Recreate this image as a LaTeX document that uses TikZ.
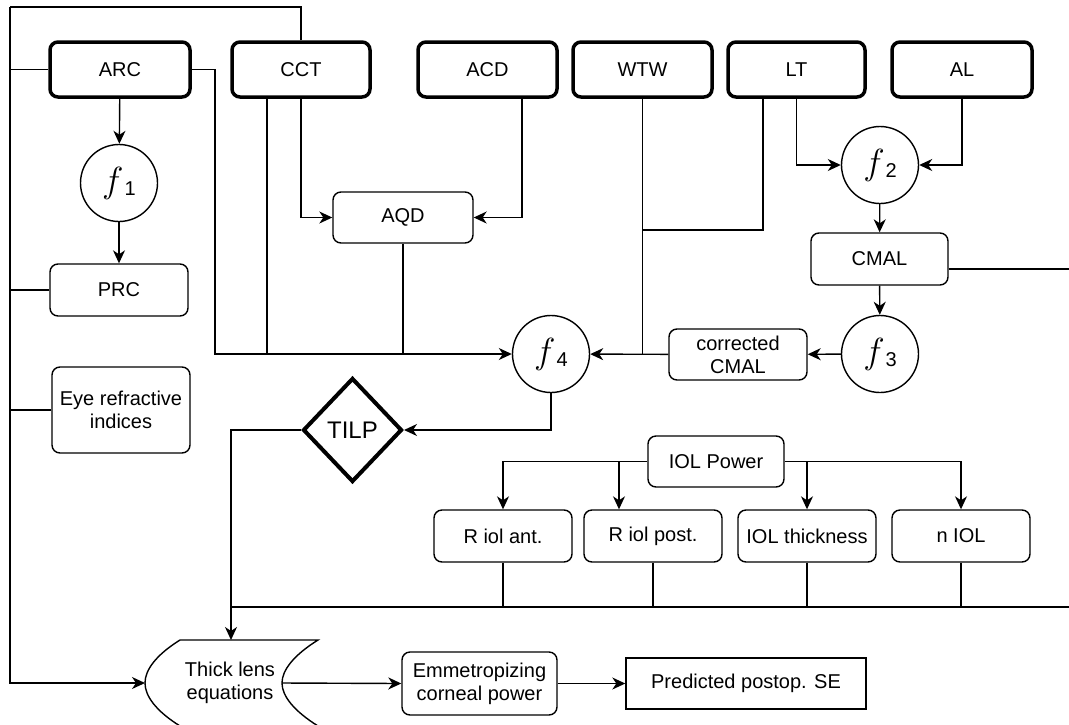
\documentclass[tikz,border=0pt]{standalone}
\usepackage{graphicx}
\usepackage{fontspec}
\setmainfont{Liberation Sans}
\usetikzlibrary{arrows.meta,shapes.geometric,calc}
\newcommand{\fcl}[1]{\raisebox{1pt}{\scalebox{1.75}{$f$}}\kern1pt\raisebox{-2pt}{#1}}
\begin{document}
\begin{tikzpicture}[x=1pt,y=-1pt,
  every node/.style={font=\fontsize{20}{23}\selectfont, inner sep=0pt, align=center},
  ln/.style={line width=1.4pt, draw=black},
  arr/.style={ln, -{Stealth[length=13pt,width=12pt,inset=4pt]}},
  inbox/.style={draw, line width=3.5pt, rounded corners=8pt, minimum height=55pt},
  procbox/.style={draw, line width=1.4pt, rounded corners=8pt, minimum width=138pt, minimum height=52pt},
  fcirc/.style={draw, line width=1.4pt, circle, minimum size=77pt},
  dia/.style={draw, line width=4pt, diamond, minimum width=99pt, minimum height=104pt, font=\fontsize{24}{26}\selectfont}
]
\useasboundingbox (0,0) rectangle (1069,724);

% input boxes
\node[inbox, minimum width=140pt] (ARC) at (120,69.5) {ARC};
\node[inbox, minimum width=138pt] (CCT) at (301,69.5) {CCT};
\node[inbox, minimum width=139pt] (ACD) at (487.5,69.5) {ACD};
\node[inbox, minimum width=139pt] (WTW) at (642.5,69.5) {WTW};
\node[inbox, minimum width=137pt] (LT) at (796.5,69.5) {LT};
\node[inbox, minimum width=140pt] (AL) at (962,69.5) {AL};

% functions
\node[fcirc] (f1) at (119,183) {\fcl{1}};
\node[fcirc] (f2) at (880,165) {\fcl{2}};
\node[fcirc] (f3) at (880,354) {\fcl{3}};
\node[fcirc] (f4) at (551,354) {\fcl{4}};

% process boxes
\node[procbox] (PRC) at (119,290) {PRC};
\node[procbox, minimum height=86pt] (Eye) at (121,410) {Eye refractive\\indices};
\node[procbox, minimum width=140pt, minimum height=51pt] (AQD) at (403,217.5) {AQD};
\node[procbox, minimum width=137pt] (CMAL) at (879.5,259) {CMAL};
\node[procbox, minimum height=51pt] (corr) at (738,354.5) {corrected\\CMAL};
\node[dia] (TILP) at (352.5,430) {TILP};
\node[procbox, minimum width=136pt, minimum height=51pt] (IOL) at (716,461.5) {IOL Power};
\node[procbox] (Rant) at (503,536) {R iol ant.};
\node[procbox] (Rpost) at (653,536) {R iol post.};
\node[procbox] (thk) at (807,536) {IOL thickness};
\node[procbox] (nIOL) at (961,536) {n IOL};
\node[procbox, minimum width=155pt, minimum height=63pt] (Emm) at (479.5,683.5) {Emmetropizing\\corneal power};
\node[draw, line width=1.4pt, minimum width=240pt, minimum height=51pt] (Pred) at (746,683.5) {Predicted postop. SE};

% thick lens shape
\draw[ln] (180,640) -- (318,640) .. controls (294,655) and (282,670) .. (282,683)
  .. controls (282,696) and (294,711) .. (318,726) -- (180,726)
  .. controls (156,711) and (145,696) .. (145,683)
  .. controls (145,670) and (156,655) .. (180,640) -- cycle;
\node (thick) at (230,683) {Thick lens\\equations};
\coordinate (thickW) at (145,683);
\coordinate (thickE) at (282,683);
\coordinate (thickN) at (231,640);

% helper coordinates
\coordinate (tl) at (10,7);
\coordinate (j1) at (215,354);
\coordinate (j2) at (267,354);
\coordinate (j3) at (643,230);
\coordinate (bus) at (231,607);
\coordinate (busR) at (1069,607);
\coordinate (cmR) at (1069,269);

% outer loop
\draw[ln] (CCT.north) |- (tl);
\draw[arr] (tl) |- (thickW);
\draw[ln] (ARC.west) -- (ARC.west -| tl);
\draw[ln] (PRC.west) -- (PRC.west -| tl);
\draw[ln] (Eye.west) -- (Eye.west -| tl);

% ARC connections
\draw[arr] (ARC) -- (f1);
\draw[arr] (f1) -- (PRC);
\draw[arr] (ARC.east) -| (j1) -- (f4.west);

% CCT connections
\draw[ln] (CCT.south -| j2) -- (j2);
\draw[arr] (CCT.south) |- (AQD.west);
\draw[arr] ([xshift=34.5pt]ACD.south) |- (AQD.east);
\draw[ln] (AQD.south) -- (AQD.south |- j1);

% WTW, LT, AL
\draw[ln] (WTW.south) -- (WTW.south |- j1);
\draw[ln] ([xshift=-33.5pt]LT.south) |- (j3);
\draw[arr] (LT.south) |- (f2.west);
\draw[arr] (AL.south) |- (f2.east);
\draw[arr] (f2) -- (CMAL);
\draw[ln] ([yshift=-10pt]CMAL.east) -- (cmR);
\draw[arr] (CMAL) -- (f3);
\draw[arr] (f3) -- (corr);
\draw[arr] (corr) -- (f4);

% f4 to TILP to thick lens
\draw[arr] (f4.south) |- (TILP.east);
\draw[arr] (TILP.west) -| (thickN);

% IOL power
\draw[arr] (IOL.west) -| (Rant.north);
\draw[arr] ([xshift=-34pt]Rpost.north |- IOL.west) -- ([xshift=-34pt]Rpost.north);
\draw[arr] (IOL.east) -| (nIOL.north);
\draw[arr] (thk.north |- IOL.east) -- (thk.north);

% bus line
\draw[ln] (bus) -- (busR);
\draw[ln] (Rant.south) -- (Rant.south |- bus);
\draw[ln] (Rpost.south) -- (Rpost.south |- bus);
\draw[ln] (thk.south) -- (thk.south |- bus);
\draw[ln] (nIOL.south) -- (nIOL.south |- bus);

% output chain
\draw[arr] (thickE) -- (Emm.west);
\draw[arr] (Emm.east) -- (Pred.west);
\end{tikzpicture}
\end{document}
